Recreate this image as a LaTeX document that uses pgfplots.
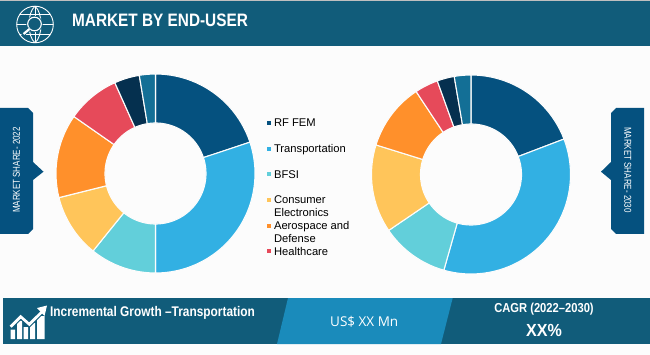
\documentclass[border=0pt]{standalone}
\usepackage{pgfplots}
\pgfplotsset{compat=1.18}
\usepgfplotslibrary{polar}
\usepackage{fontspec}
\setmainfont{Liberation Sans}
\newfontfamily\bodyfont{Open Sans}
\definecolor{bg}{HTML}{FCFCFC}
\definecolor{band}{HTML}{115C7A}
\definecolor{bandmid}{HTML}{1A8BBB}
\definecolor{tag}{HTML}{05517F}
\definecolor{c1}{HTML}{05517F}
\definecolor{c2}{HTML}{32B0E3}
\definecolor{c3}{HTML}{62CFDA}
\definecolor{c4}{HTML}{FFC55A}
\definecolor{c5}{HTML}{FF902B}
\definecolor{c6}{HTML}{E64A5A}
\definecolor{c7}{HTML}{05304F}
\definecolor{c8}{HTML}{136F96}
\newcommand\rout{99.5}
\newcommand\rin{50.5}
\gdef\cum{0}
% \slice{colour}{share in percent}: one wedge of the ring, clockwise from 12 o'clock
\newcommand\slice[2]{%
  \pgfmathsetmacro\sa{\cum*3.6}%
  \pgfmathsetmacro\sb{(\cum+#2)*3.6}%
  \pgfmathsetmacro\newcum{\cum+#2}%
  \xdef\cum{\newcum}%
  \pgfmathtruncatemacro\nsteps{ceil((\sb-\sa)/3)}%
  \gdef\pts{}%
  \pgfplotsforeachungrouped \i in {0,...,\nsteps}{%
    \pgfmathsetmacro\th{90-(\sa+\i*(\sb-\sa)/\nsteps)}%
    \xdef\pts{\pts (\th,\rout)}}%
  \pgfplotsforeachungrouped \i in {\nsteps,...,0}{%
    \pgfmathsetmacro\th{90-(\sa+\i*(\sb-\sa)/\nsteps)}%
    \xdef\pts{\pts (\th,\rin)}}%
  \edef\doplot{\noexpand\addplot[fill=#1,draw=bg,line width=1.1pt,line join=miter] coordinates {\pts} -- cycle;}%
  \doplot
}
\newcommand\lab[1]{\smash{\hspace*{6pt}\parbox[t]{85pt}{\raggedright #1}}}
\pgfplotsset{ring/.style={
  hide axis,clip=false,scale only axis,width=199pt,height=199pt,
  ymin=0,ymax=99.5,anchor=center}}
\begin{document}
\begin{tikzpicture}
\begin{scope}[x=1pt,y=-1pt]
\fill[bg] (0,0) rectangle (650,355);
\path[use as bounding box] (0,0) rectangle (650,355);
% header
\fill[black!25!white] (0,0) rectangle (650,1);
\fill[band] (0,1) rectangle (650,46);
\node[anchor=west,text=white,font=\bfseries\fontsize{18}{18}\selectfont,xscale=0.853,inner sep=0] at (72,20.5) {MARKET BY END-USER};
\begin{scope}[white,line width=0.9pt,yshift=-3.5pt]
\draw (35,21) circle (18.3);
\draw (35,2.7) .. controls (27,9) and (27,33) .. (35,39.3);
\draw (35,2.7) .. controls (43,9) and (43,33) .. (35,39.3);
\draw (35,2.7) -- (35,39.3);
\draw (17,21) -- (53,21);
\draw (20,11) -- (50,11);
\draw (20,31) -- (50,31);
\fill[band] (34.5,20.5) circle (8.2);
\draw[line width=1.1pt] (34.5,20.5) circle (6.8);
\draw[band,line width=4pt] (29.5,25.5) -- (22,31.5);
\draw[line width=2.2pt] (29.5,25.5) -- (23.5,30.5);
\end{scope}
% side tags
\fill[tag] (0,108) -- (28,108) -- (33,113) -- (33,162) -- (43.5,171.7) -- (33,180) -- (33,229) -- (28,234) -- (0,234) -- cycle;
\node[rotate=90,text=white,font=\fontsize{10}{10}\selectfont,xscale=0.8,inner sep=0] at (16.5,170) {MARKET SHARE- 2022};
\fill[tag] (644,108) -- (616,108) -- (611,113) -- (611,162) -- (601,171.7) -- (611,180) -- (611,229) -- (616,234) -- (644,234) -- cycle;
\node[rotate=-90,text=white,font=\fontsize{10}{10}\selectfont,xscale=0.8,inner sep=0] at (627.7,170) {MARKET SHARE- 2030};
% bottom band
\fill[band] (3,298) rectangle (650,344);
\fill[bandmid] (288,298) -- (452.7,298) -- (441,344) -- (277,344) -- cycle;
\node[anchor=west,text=white,font=\bfseries\fontsize{14}{14}\selectfont,xscale=0.849,inner sep=0] at (50,313) {Incremental Growth --Transportation};
\node[anchor=west,text=white,font=\bodyfont\fontsize{13.5}{14}\selectfont,inner sep=0] at (330,321.5) {US\$ XX Mn};
\node[text=white,font=\bfseries\fontsize{13}{14}\selectfont,xscale=0.86,inner sep=0] at (544,309) {CAGR (2022--2030)};
\node[text=white,font=\bfseries\fontsize{17.5}{18}\selectfont,xscale=0.92,inner sep=0] at (544,330) {XX\%};
% growth icon
\fill[white] (10.5,339) rectangle (15,329.5) (17,339) rectangle (22,320.5) (23.5,339) rectangle (28,327) (30,339) rectangle (35,323) (37,339) rectangle (44.5,316);
\draw[band,line width=5pt] (10.7,326.7) -- (20.7,316.7) -- (29.3,324.3) -- (42.7,311);
\draw[white,line width=2.7pt] (10.7,326.7) -- (20.7,316.7) -- (29.3,324.3) -- (42.7,311);
\fill[white] (47,305.5) -- (37,308) -- (44.5,316) -- cycle;
\end{scope}
\begin{polaraxis}[ring,at={(155.5pt,-173.5pt)},
  legend style={draw=none,fill=none,at={(1.06,0.735)},anchor=north west,
    row sep=24.2pt,inner sep=0pt,outer sep=0pt,
    font=\fontsize{11.2}{13}\selectfont,
    nodes={inner sep=0pt}},
  legend cell align=left,
  legend image code/.code={\fill[#1,draw=none,overlay] (-0.5pt,2.5pt) rectangle (3.5pt,6.5pt);\path (0pt,0pt);}]
\slice{c1}{19.9}\addlegendentry{\lab{RF FEM}}
\slice{c2}{30.1}\addlegendentry{\lab{Transportation}}
\slice{c3}{10.8}\addlegendentry{\lab{BFSI}}
\slice{c4}{10.3}\addlegendentry{\lab{Consumer\\Electronics}}
\slice{c5}{13.6}\addlegendentry{\lab{Aerospace and\\Defense}}
\slice{c6}{8.6}\addlegendentry{\lab{Healthcare}}
\slice{c7}{4.1}
\slice{c8}{2.6}
\end{polaraxis}
\gdef\cum{0}
\begin{polaraxis}[ring,at={(471pt,-174.5pt)}]
\slice{c1}{19.2}
\slice{c2}{35.2}
\slice{c3}{11.1}
\slice{c4}{14.3}
\slice{c5}{10.9}
\slice{c6}{3.8}
\slice{c7}{2.8}
\slice{c8}{2.7}
\end{polaraxis}
\end{tikzpicture}
\end{document}
